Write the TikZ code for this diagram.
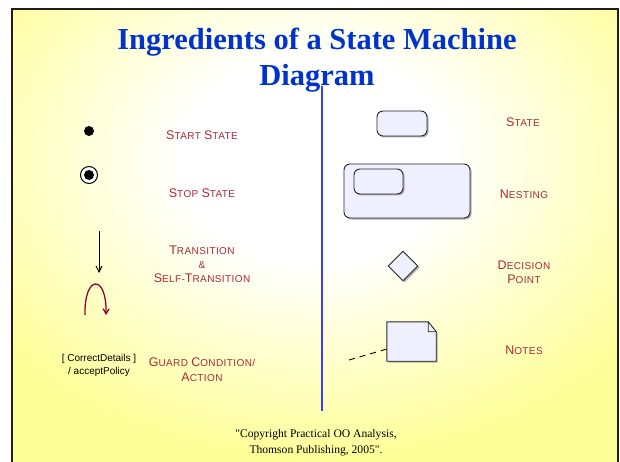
\documentclass[tikz,border=0pt]{standalone}
\usepackage{fontspec}
\setmainfont{Liberation Serif}
\newfontfamily\copyfont[Ligatures=TeXOff]{Liberation Serif}
\newfontfamily\labfont[LetterSpace=4]{Liberation Sans}
\newfontfamily\guardfont{Liberation Sans}
\usetikzlibrary{arrows.meta,shapes.geometric,shadows}
\definecolor{bgyellow}{RGB}{255,255,153}
\definecolor{titleblue}{RGB}{0,51,204}
\definecolor{labred}{RGB}{170,40,56}
\definecolor{arcred}{RGB}{150,0,50}
\definecolor{statefill}{RGB}{238,240,255}
\definecolor{vline}{RGB}{60,60,255}
\definecolor{framecol}{RGB}{30,30,30}
\newcommand{\scw}[2]{{\fontsize{12.5pt}{14pt}\selectfont #1}{\fontsize{10pt}{14pt}\selectfont #2}}
\tikzset{
  lab/.style={font=\labfont\fontsize{10pt}{14pt}\selectfont, text=labred, align=center, inner sep=0pt},
  titletext/.style={font=\fontsize{30.5pt}{36pt}\selectfont\bfseries, text=titleblue, inner sep=0pt, anchor=base},
  statebox/.style={draw=black!85, line width=0.9pt, fill=statefill, rounded corners=6pt, inner sep=0pt,
    drop shadow={shadow xshift=1.5pt, shadow yshift=-1.5pt, fill=black!45, opacity=0.7}},
  shadowed/.style={drop shadow={shadow xshift=1.5pt, shadow yshift=-1.5pt, fill=black!45, opacity=0.7}},
  selfarc/.style={draw=arcred, line width=1.3pt, -{Straight Barb[length=5pt,width=6pt]}},
  transarrow/.style={draw=black, line width=0.9pt, -{Straight Barb[length=6pt,width=6pt]}},
}
\begin{document}
\begin{tikzpicture}[x=1pt,y=-1pt]
\useasboundingbox (0,0) rectangle (620,462);
% background
\begin{scope}
  \clip (12,9) rectangle (618,462);
  \fill[bgyellow] (12,9) rectangle (618,462);
  \foreach \i in {0,...,60}{
    \pgfmathsetmacro{\f}{1-\i/60}
    \pgfmathsetmacro{\pct}{max(0,min(100,(\f-0.32)/0.6*100))}
    \fill[bgyellow!\pct!white] (315,160) ellipse [x radius=\f*430pt, y radius=\f*330pt];
  }
\end{scope}
\draw[framecol, line width=2.2pt] (12,464) -- (12,9) -- (618,9) -- (618,464);

% title
\node[titletext] (title1) at (317,50) {Ingredients of a State Machine};
\node[titletext] (title2) at (317,86) {Diagram};

% divider
\coordinate (vtop) at (322,86);
\coordinate (vbot) at (322,411);
\draw[black!30, line width=2.6pt] (vtop) -- (vbot);
\draw[vline, line width=1.3pt] (vtop) -- (vbot);

% start state
\node[circle, fill=black, minimum size=10pt, inner sep=0pt] (start) at (89,131) {};
\node[lab] (lstart) at (202,135) {\scw{S}{TART} \scw{S}{TATE}};

% stop state
\node[circle, draw=black, line width=1pt, fill=white, minimum size=17pt, inner sep=0pt] (stop) at (89,175) {};
\node[circle, fill=black, minimum size=10pt, inner sep=0pt] (stopdot) at (89,175) {};
\node[lab] (lstop) at (202,193) {\scw{S}{TOP} \scw{S}{TATE}};

% transition
\coordinate (tA) at (99,231);
\coordinate (tB) at (99,273);
\draw[transarrow] (tA) -- (tB);
\coordinate (sA) at (85,315);
\coordinate (sB) at (106,315);
\draw[selfarc] (sA) .. controls (84,274) and (107,274) .. (sB);
\node[lab] (ltrans) at (202,264) {\scw{T}{RANSITION}\\\&\\\scw{S}{ELF}-\scw{T}{RANSITION}};

% guard
\node[font=\guardfont\fontsize{10pt}{13pt}\selectfont, align=center, inner sep=0pt] (guard) at (99,365) {[ CorrectDetails ]\\/ acceptPolicy};
\node[lab, font=\labfont\fontsize{10pt}{15pt}\selectfont] (lguard) at (202,370) {\scw{G}{UARD} \scw{C}{ONDITION/}\\\scw{A}{CTION}};

% state
\node[statebox, minimum width=50pt, minimum height=25pt] (state) at (402,123.5) {};
\node[lab] (lstate) at (523,122) {\scw{S}{TATE}};

% nesting
\node[statebox, minimum width=126pt, minimum height=54pt] (nestout) at (407,191) {};
\node[statebox, minimum width=49pt, minimum height=25pt] (nestin) at (378.5,181.5) {};
\node[lab] (lnest) at (524,194) {\scw{N}{ESTING}};

% decision
\node[diamond, draw=black!85, line width=0.9pt, fill=statefill, minimum width=30pt, minimum height=30pt, inner sep=0pt, shadowed] (dec) at (403,266) {};
\node[lab] (ldec) at (524,272) {\scw{D}{ECISION}\\\scw{P}{OINT}};

% note
\node[minimum width=49pt, minimum height=39pt, inner sep=0pt] (note) at (411.5,341.5) {};
\draw[draw=black!85, line width=0.9pt, fill=statefill, shadowed, line join=round]
  (note.north west) -- ([xshift=-8pt]note.north east) -- ([yshift=-10pt]note.north east) -- (note.south east) -- (note.south west) -- cycle;
\draw[draw=black!85, line width=0.7pt, fill=statefill!80!black!20, line join=round]
  ([xshift=-8pt]note.north east) -- ([xshift=-8pt,yshift=-10pt]note.north east) -- ([yshift=-10pt]note.north east) -- cycle;
\coordinate (nA) at (349,360);
\draw[black, line width=0.9pt, dash pattern=on 6pt off 5pt] (nA) -- ([yshift=-7.5pt]note.west);
\node[lab] (lnotes) at (524,350) {\scw{N}{OTES}};

% copyright
\node[font=\copyfont\fontsize{11.6pt}{16pt}\selectfont, align=center, inner sep=0pt] (copy) at (316,443) {"Copyright Practical OO Analysis,\\Thomson Publishing, 2005".};
\end{tikzpicture}
\end{document}
